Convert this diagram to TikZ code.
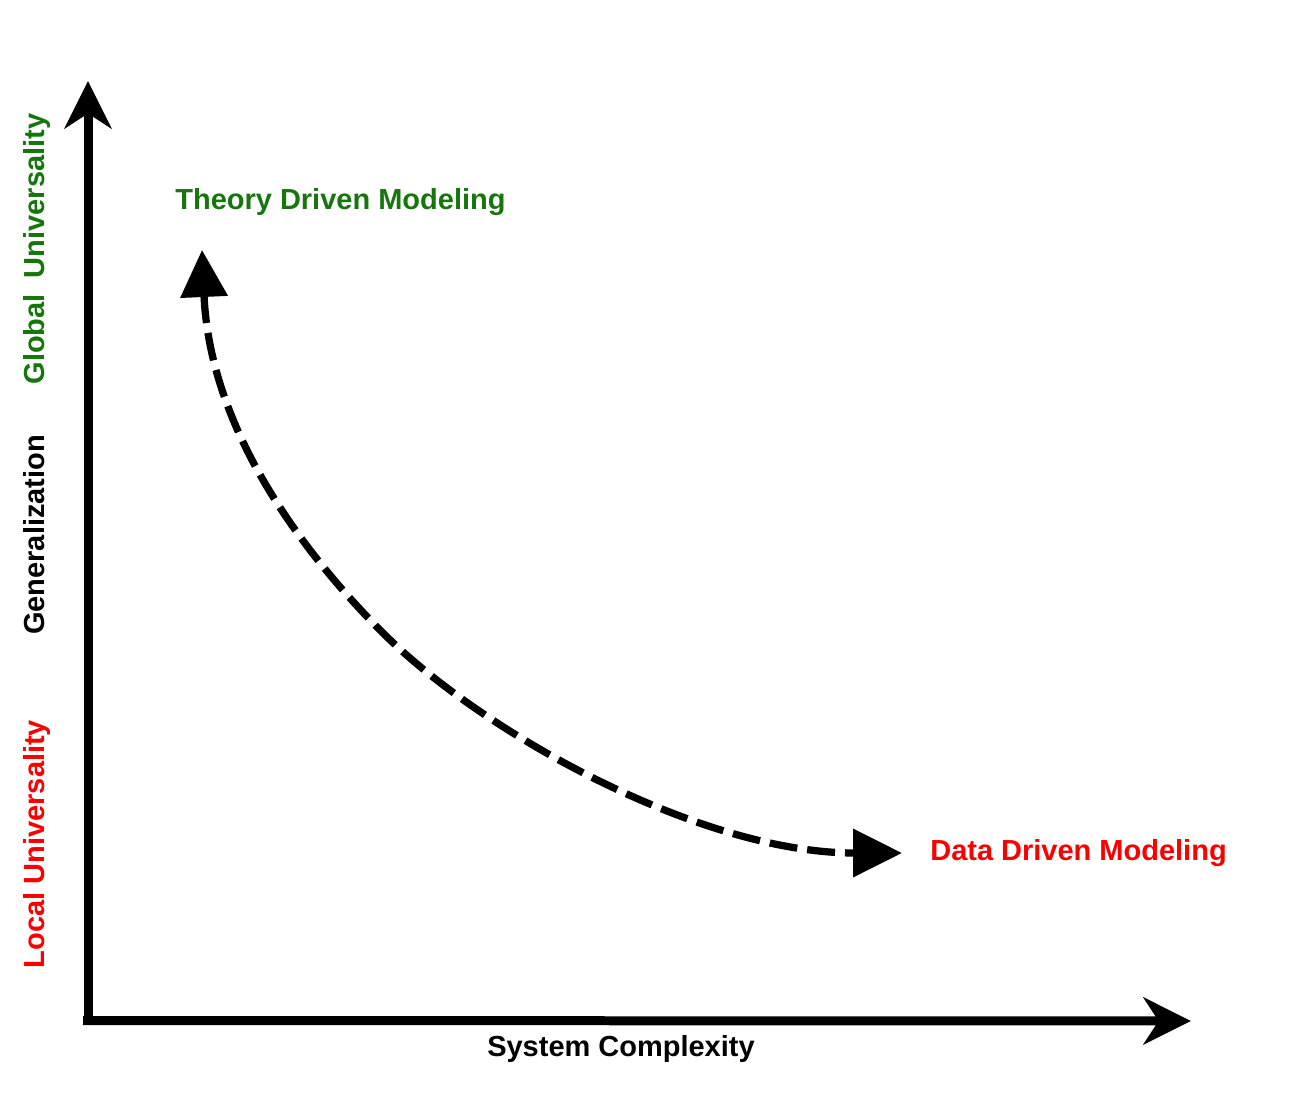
\documentclass[tikz,border=0pt]{standalone}
\usepackage{fontspec}
\setmainfont{Liberation Sans}
\usetikzlibrary{arrows.meta}
\definecolor{theorygreen}{RGB}{22,118,12}
\definecolor{datared}{RGB}{250,0,0}

\begin{document}
\begin{tikzpicture}[x=0.02cm,y=-0.02cm,
    axis/.style={line width=0.18cm,-{Stealth[length=0.95cm,width=0.94cm,inset=0.3cm]}},
    tradeoff/.style={line width=0.145cm,dash pattern=on 0.56cm off 0.2cm,
      {Triangle[length=0.94cm,width=0.92cm]}-{Triangle[length=0.98cm,width=0.94cm]}},
    big label/.style={font=\fontsize{16.5}{20}\selectfont\bfseries,inner sep=0pt},
    side label/.style={big label,rotate=90,anchor=base}]
  \useasboundingbox (0,0) rectangle (1300,1111);
  % axes
  \coordinate (ybottom) at (88,1025);
  \coordinate (ytop) at (88,81);
  \coordinate (xleft) at (83,1020.5);
  \coordinate (xright) at (1191,1021);
  \draw[axis] (ybottom) -- (ytop);
  \draw[axis] (xleft) -- (xright);
  % labels
  \node[big label,text=theorygreen,anchor=base west] (theory) at (175,210) {Theory Driven Modeling};
  \node[big label,text=datared,anchor=base west] (data) at (930,860) {Data Driven Modeling};
  \node[big label,anchor=base] (complexity) at (621,1056) {System Complexity};
  \node[side label,text=theorygreen] (global) at (44,249) {Global\ \ Universality};
  \node[side label] (general) at (44,535) {Generalization};
  \node[side label,text=datared] (local) at (44,844) {Local Universality};
  % trade-off curve
  \coordinate (theorytip) at (202,250);
  \coordinate (bend) at (383,633);
  \coordinate (datatip) at (902,853);
  \draw[tradeoff] (theorytip) .. controls (210,430) and (303,553) .. (bend)
                              .. controls (483,733) and (700,853) .. (datatip);
\end{tikzpicture}
\end{document}
